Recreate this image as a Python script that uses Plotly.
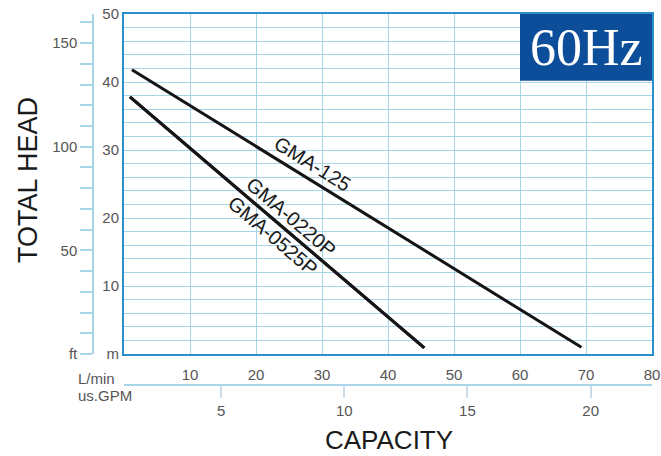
import plotly.graph_objects as go

# ---- data ----
gma125_lpm = [1.2, 69.3]
gma125_head = [41.8, 1.0]
gma0220p_lpm = [0.9, 45.5]
gma0220p_head = [37.8, 0.9]
gma0525p_lpm = [0.9, 45.5]
gma0525p_head = [37.8, 0.9]

lpm_ticks = [0, 10, 20, 30, 40, 50, 60, 70, 80]
lpm_labels = ["", "10", "20", "30", "40", "50", "60", "70", "80"]
gpm_ticks = [5, 10, 15, 20]
m_ticks = list(range(0, 51, 2))
m_labels = ["m" if v == 0 else (str(v) if v % 10 == 0 else "") for v in m_ticks]
ft_ticks = list(range(0, 161, 10))
ft_labels = ["ft" if v == 0 else (str(v) if v % 50 == 0 else "") for v in ft_ticks]

W, H = 661, 456
ML, MR, MT, MB = 60, 9, 14, 20
pw = W - ML - MR
ph = H - MT - MB
x_dom0 = (124 - ML) / pw
y_dom0 = (H - MB - 354) / ph
ft_pos = (93 - ML) / pw
gpm_pos = (H - MB - 385) / ph

BORDER = "#2b8fcb"
GRID = "#a9d5ea"
TICKFONT = dict(family="Liberation Sans Narrow, Arial Narrow, Liberation Sans, Arial", size=15, color="#555555")

fig = go.Figure()
for xs, ys in [(gma125_lpm, gma125_head), (gma0220p_lpm, gma0220p_head), (gma0525p_lpm, gma0525p_head)]:
    fig.add_trace(go.Scatter(x=xs, y=ys, mode="lines", line=dict(color="#151515", width=3),
                             showlegend=False, hoverinfo="skip"))

# invisible traces to activate secondary axes
fig.add_trace(go.Scatter(x=[5], y=[0], xaxis="x2", yaxis="y", mode="markers",
                         marker=dict(opacity=0), showlegend=False, hoverinfo="skip"))
fig.add_trace(go.Scatter(x=[0], y=[0], xaxis="x", yaxis="y2", mode="markers",
                         marker=dict(opacity=0), showlegend=False, hoverinfo="skip"))

fig.update_layout(
    width=W, height=H,
    margin=dict(l=ML, r=MR, t=MT, b=MB, autoexpand=False),
    paper_bgcolor="white", plot_bgcolor="white",
    xaxis=dict(domain=[x_dom0, 1], range=[0, 80], tickmode="array", tickvals=lpm_ticks,
               ticktext=lpm_labels, showgrid=True, gridcolor=GRID, gridwidth=1,
               showline=True, linecolor=BORDER, linewidth=2, mirror=True, automargin=False,
               ticks="outside", ticklen=6, tickcolor="rgba(0,0,0,0)",
               tickfont=TICKFONT, zeroline=False, anchor="y"),
    yaxis=dict(domain=[y_dom0, 1], range=[0, 50], tickmode="array", tickvals=m_ticks,
               ticktext=m_labels, showgrid=True, gridcolor=GRID, gridwidth=1,
               showline=True, linecolor=BORDER, linewidth=2, mirror=True, automargin=False,
               ticks="", tickfont=TICKFONT, zeroline=False, anchor="x"),
    xaxis2=dict(overlaying="x", domain=[x_dom0, 1], range=[1.06, 22.49], anchor="free",
                position=gpm_pos, side="bottom", tickmode="array", tickvals=gpm_ticks,
                showgrid=False, showline=True, linecolor=GRID, linewidth=1.5, automargin=False,
                ticks="outside", ticklen=12, tickcolor="#c8dbe6", tickwidth=1.5,
                tickfont=TICKFONT, zeroline=False),
    yaxis2=dict(overlaying="y", domain=[y_dom0, 1], range=[0, 50 / 0.3048], anchor="free",
                position=ft_pos, side="left", tickmode="array", tickvals=ft_ticks,
                ticktext=ft_labels, showgrid=False, showline=True, linecolor=GRID,
                linewidth=1.5, ticks="outside", ticklen=12, tickcolor=GRID, tickwidth=1.5,
                automargin=False, tickfont=TICKFONT, zeroline=False),
    shapes=[dict(type="rect", xref="x", yref="y", x0=60, x1=80, y0=40.2, y1=50,
                 fillcolor="#0d4e9a", line=dict(width=0), layer="above")],
)

ann_font = dict(family="Liberation Sans, Arial", size=20, color="#1a1a1a")
annotations = [
    dict(x=70, y=45.1, xref="x", yref="y", text="60Hz", showarrow=False,
         font=dict(family="Liberation Serif, Times New Roman", size=52, color="white")),
    dict(x=28.6, y=28.0, xref="x", yref="y", text="GMA-125", showarrow=False,
         textangle=31.7, font=ann_font),
    dict(x=25.3, y=20.1, xref="x", yref="y", text="GMA-0220P", showarrow=False,
         textangle=40.5, font=ann_font),
    dict(x=22.6, y=17.4, xref="x", yref="y", text="GMA-0525P", showarrow=False,
         textangle=40.5, font=ann_font),
    dict(x=28 / W, y=1 - 180 / H, xref="paper", yref="paper", text="TOTAL HEAD",
         showarrow=False, textangle=-90, xanchor="center", yanchor="middle",
         font=dict(family="Liberation Sans, Arial", size=27, color="#1a1a1a")),
    dict(x=389 / W, y=1 - 440 / H, xref="paper", yref="paper", text="CAPACITY",
         showarrow=False, xanchor="center", yanchor="middle",
         font=dict(family="Liberation Sans, Arial", size=26, color="#1a1a1a")),
    dict(x=76 / W, y=1 - 378 / H, xref="paper", yref="paper", text="L/min", xanchor="left",
         yanchor="middle", showarrow=False, font=TICKFONT),
    dict(x=76 / W, y=1 - 395 / H, xref="paper", yref="paper", text="us.GPM", xanchor="left",
         yanchor="middle", showarrow=False, font=TICKFONT),
]
# convert page pixel positions into layout paper fractions
for a in annotations:
    if a["xref"] == "paper":
        px = a["x"] * W
        py = (1 - a["y"]) * H
        a["x"] = (px - ML) / pw
        a["y"] = (H - MB - py) / ph
fig.update_layout(annotations=annotations)

fig.write_html("out.html", config={"displayModeBar": False},
               post_script="document.body.style.margin='0px';document.body.style.padding='0px';")
